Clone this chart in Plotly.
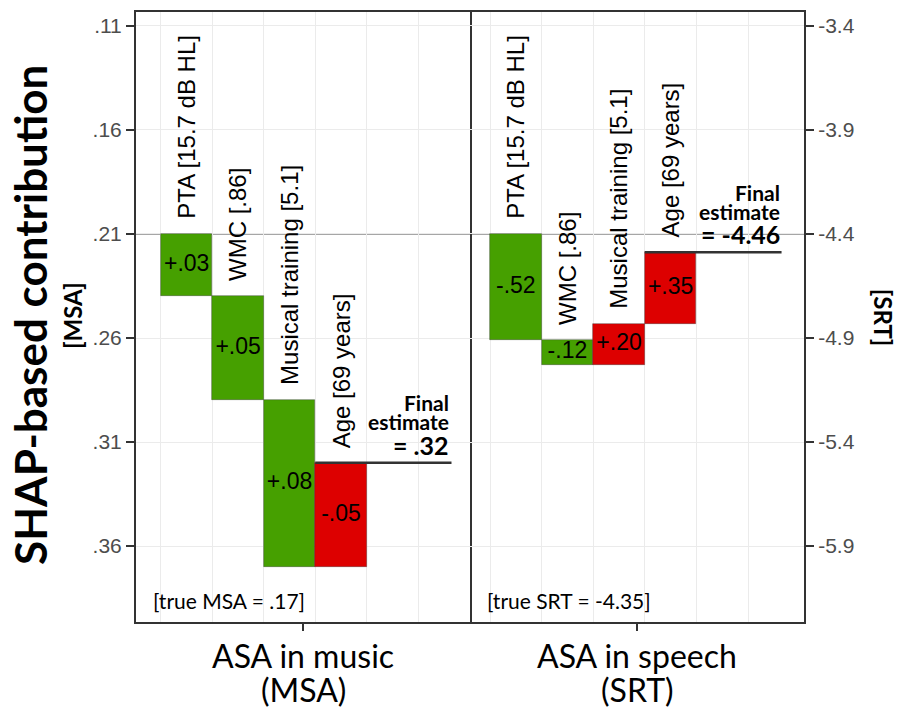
import plotly.graph_objects as go

# ---- data -------------------------------------------------------------
features = ["PTA [15.7 dB HL]", "WMC [.86]", "Musical training [5.1]", "Age [69 years]"]
msa_contrib = [0.03, 0.05, 0.08, -0.05]
srt_contrib = [-0.52, -0.12, 0.20, 0.35]
msa_base = 0.21
srt_base = -4.37
msa_true = ".17"
srt_true = "-4.35"
panel_titles = [("ASA in music", "(MSA)"), ("ASA in speech", "(SRT)")]

msa_tickvals = [0.11, 0.16, 0.21, 0.26, 0.31, 0.36]
msa_ticktext = [".11", ".16", ".21", ".26", ".31", ".36"]
srt_ticktext = ["-3.4", "-3.9", "-4.4", "-4.9", "-5.4", "-5.9"]

# SRT units per MSA unit on the secondary scale
srt_per_msa = 10.2

# ---- styling ------------------------------------------------------------
GREEN = "#46A000"
RED = "#DD0000"
GRID = "#EBEBEB"
FRAME = "#333333"
TICKGREY = "#4D4D4D"
SANS = "Liberation Sans, Arial, sans-serif"
TITLEFONT = "Lato, Open Sans, sans-serif"

MSA_RANGE = [0.3965, 0.1033]          # reversed: .11 on top
X1_RANGE = [0.514, 7.01]
X2_RANGE = [0.612, 7.085]
FINAL_LINE_END = 6.65
positions = [1.5, 2.5, 3.5, 4.5]


def to_srt(m):
    return srt_base - (m - msa_base) * srt_per_msa


def fmt_signed(v):
    return f"{v:+.2f}".replace("0.", ".", 1)


def fmt_plain(v):
    s = f"{v:.2f}"
    if s.startswith("0."):
        s = s[1:]
    elif s.startswith("-0."):
        s = "-" + s[2:]
    return s


fig = go.Figure()
annotations = []


def add_panel(contrib, base, xa, ya, good_sign, upper_edge, true_label, title_lines):
    starts, ends = [], []
    level = base
    for v in contrib:
        starts.append(level)
        level += v
        ends.append(level)
    final = level
    colors = [GREEN if (v * good_sign) > 0 else RED for v in contrib]

    fig.add_trace(go.Bar(
        x=positions, y=contrib, base=starts, width=1.0,
        marker=dict(color=colors, line=dict(color="rgba(50,50,50,0.55)", width=0.7)),
        xaxis=xa, yaxis=ya, showlegend=False, hoverinfo="skip",
    ))
    # contribution labels centred in each bar
    fig.add_trace(go.Scatter(
        x=positions, y=[s + v / 2 for s, v in zip(starts, contrib)],
        mode="text", text=[fmt_signed(v) for v in contrib],
        textfont=dict(family=SANS, size=23, color="black"),
        xaxis=xa, yaxis=ya, showlegend=False, hoverinfo="skip",
    ))
    # final estimate line
    fig.add_trace(go.Scatter(
        x=[positions[-1] - 0.5, FINAL_LINE_END], y=[final, final],
        mode="lines", line=dict(color=FRAME, width=2.5),
        xaxis=xa, yaxis=ya, showlegend=False, hoverinfo="skip",
    ))
    xref = "x" if xa == "x" else "x2"
    yref = "y" if ya == "y" else "y2"
    # rotated feature names above each bar
    for p, f, s, e in zip(positions, features, starts, ends):
        annotations.append(dict(
            x=p, y=upper_edge(s, e), xref=xref, yref=yref, text=f,
            textangle=-90, showarrow=False, xanchor="center", yanchor="bottom",
            yshift=13, font=dict(family=SANS, size=24, color="black"),
        ))
    # final estimate caption
    for txt, shift, size in [("<b>Final</b>", 60, 21), ("<b>estimate</b>", 41, 21),
                             (f"<b>= {fmt_plain(final)}</b>", 18, 25)]:
        annotations.append(dict(
            x=FINAL_LINE_END, y=final, xref=xref, yref=yref, text=txt,
            showarrow=False, xanchor="right", yanchor="middle", yshift=shift,
            font=dict(family=TITLEFONT, size=size, color="black"),
        ))
    annotations.append(dict(
        x=0.045, y=0.035, xref=f"{xref} domain", yref=f"{yref} domain",
        text=true_label, showarrow=False, xanchor="left", yanchor="middle",
        font=dict(family=TITLEFONT, size=21, color="black"),
    ))
    # panel caption under the axis, two lines
    for line, shift in zip(title_lines, [-33, -67]):
        annotations.append(dict(
            x=0.5, y=0, xref=f"{xref} domain", yref=f"{yref} domain",
            text=line, showarrow=False, xanchor="center", yanchor="middle",
            yshift=shift, borderpad=0,
            font=dict(family=TITLEFONT, size=32, color="black"),
        ))
    return final


add_panel(msa_contrib, msa_base, "x", "y", +1, min, f"[true MSA = {msa_true}]", panel_titles[0])
add_panel(srt_contrib, srt_base, "x2", "y2", -1, max, f"[true SRT = {srt_true}]", panel_titles[1])

# base-value reference line across both panels
fig.add_shape(type="line", xref="x domain", yref="y", x0=0, x1=1, y0=msa_base, y1=msa_base,
              line=dict(color="#A6A6A6", width=2), layer="below")
fig.add_shape(type="line", xref="x2 domain", yref="y2", x0=0, x1=1, y0=srt_base, y1=srt_base,
              line=dict(color="#A6A6A6", width=2), layer="below")

xcommon = dict(
    showgrid=False, zeroline=False, showline=True, mirror=True, automargin=False,
    linecolor=FRAME, linewidth=2, ticks="outside", ticklen=7, tickwidth=1.5,
    tickcolor=FRAME, ticktext=[""],
    minor=dict(tickvals=[1, 2, 3, 4, 5, 6], showgrid=True, gridcolor=GRID,
               gridwidth=1.2, ticks=""),
)
ycommon = dict(
    showgrid=True, gridcolor=GRID, gridwidth=1.2, zeroline=False, automargin=False,
    showline=True, linecolor=FRAME, linewidth=2,
    ticks="outside", ticklen=8, tickwidth=1.5, tickcolor=FRAME,
    tickfont=dict(family=SANS, size=21, color=TICKGREY),
)
fig.update_layout(
    width=898, height=709,
    margin=dict(l=136, r=94, t=12, b=87),
    paper_bgcolor="white", plot_bgcolor="white",
    xaxis=dict(domain=[0, 0.5], range=X1_RANGE, tickvals=[sum(X1_RANGE) / 2], **xcommon),
    xaxis2=dict(domain=[0.5, 1], range=X2_RANGE, anchor="y2",
                tickvals=[sum(X2_RANGE) / 2], **xcommon),
    yaxis=dict(range=MSA_RANGE, tickvals=msa_tickvals, ticktext=msa_ticktext,
               mirror=True, anchor="x", **ycommon),
    yaxis2=dict(range=[to_srt(MSA_RANGE[0]), to_srt(MSA_RANGE[1])],
                tickvals=[to_srt(m) for m in msa_tickvals], ticktext=srt_ticktext,
                mirror=False, side="right", anchor="x2", **ycommon),
    annotations=annotations + [
        dict(x=-0.159, y=0.503, xref="paper", yref="paper",
             text="<b>SHAP-based contribution</b>", textangle=-90, showarrow=False,
             xanchor="center", yanchor="middle",
             font=dict(family=TITLEFONT, size=44, color="black")),
        dict(x=-0.096, y=0.503, xref="paper", yref="paper",
             text="<b>[MSA]</b>", textangle=-90, showarrow=False,
             xanchor="center", yanchor="middle",
             font=dict(family=TITLEFONT, size=24, color="black")),
        dict(x=1.12, y=0.5, xref="paper", yref="paper",
             text="<b>[SRT]</b>", textangle=90, showarrow=False,
             xanchor="center", yanchor="middle",
             font=dict(family=TITLEFONT, size=24, color="black")),
    ],
    bargap=0,
)

fig.write_html("out.html")
